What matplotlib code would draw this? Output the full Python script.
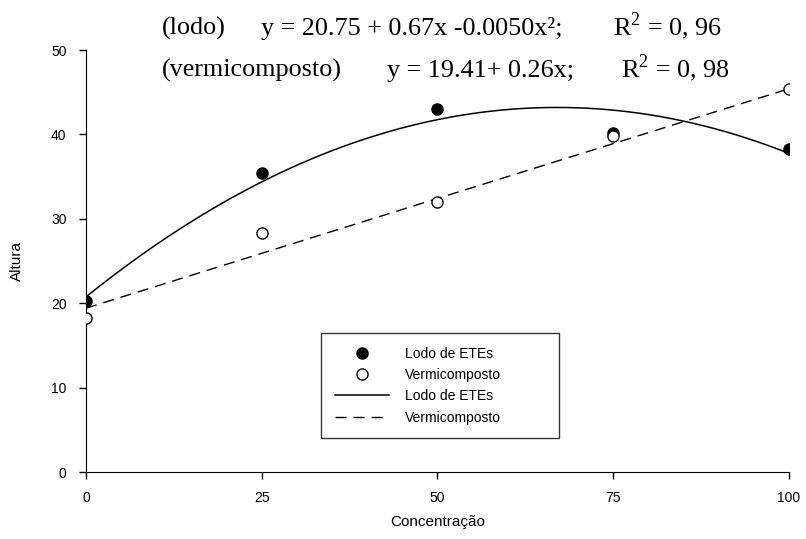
import numpy as np
import matplotlib
matplotlib.use("Agg")
import matplotlib.pyplot as plt

# dados
conc = [0, 25, 50, 75, 100]
lodo = [20.3, 35.4, 43.0, 40.2, 38.3]
vermi = [18.2, 28.3, 32.0, 39.8, 45.4]

# coeficientes das regressoes (maior grau primeiro)
coef_lodo = [-0.0050, 0.67, 20.75]
coef_vermi = [0.26, 19.41]

xticks = [0, 25, 50, 75, 100]
yticks = [0, 10, 20, 30, 40, 50]

plt.rcParams["font.family"] = ["Liberation Sans", "DejaVu Sans"]
plt.rcParams["mathtext.fontset"] = "custom"
plt.rcParams["mathtext.rm"] = "Liberation Serif"

fig = plt.figure(figsize=(8.06, 5.39), dpi=100)
ax = fig.add_axes([0.1067, 0.1243, 0.8722, 0.7829])

xs = np.linspace(0, 100, 200)
ax.plot(conc, lodo, "o", color="black", ms=8, label="Lodo de ETEs", zorder=3)
ax.plot(conc, vermi, "o", mfc="white", mec="black", mew=1.0, ms=8,
        label="Vermicomposto", zorder=3)
ax.plot(xs, np.polyval(coef_lodo, xs), "-", color="black", lw=1.1,
        label="Lodo de ETEs")
ax.plot(xs, np.polyval(coef_vermi, xs), "--", color="black", lw=1.0,
        dashes=(8, 5), label="Vermicomposto")

ax.set_xlim(0, 100)
ax.set_ylim(0, 50)
ax.set_xticks(xticks)
ax.set_yticks(yticks)
ax.spines["top"].set_visible(False)
ax.spines["right"].set_visible(False)
ax.tick_params(direction="out", length=5, width=1, labelsize=10)
ax.tick_params(axis="x", pad=9)
ax.tick_params(axis="y", pad=9)

ax.set_xlabel("Concentração", fontsize=11)
ax.xaxis.set_label_coords(0.5, -0.1185)
ax.xaxis.label.set_verticalalignment("center")
ax.set_ylabel("Altura", fontsize=11)
ax.yaxis.set_label_coords(-0.098, 0.5)
ax.yaxis.label.set_verticalalignment("center")

leg = ax.legend(loc="upper left", bbox_to_anchor=(0.3339, 0.0853, 0.339, 0.245),
                mode="expand", borderaxespad=0, numpoints=1,
                fontsize=10, frameon=True, fancybox=False, edgecolor="black",
                handlelength=3.95, handletextpad=1.1, borderpad=1.0,
                labelspacing=0.53)
leg.get_frame().set_linewidth(1.0)

serif = ["Liberation Serif", "DejaVu Serif"]
fs = 18.8
fig.text(162 / 806, 1 - 35 / 539, "(lodo)", family=serif, fontsize=fs, va="baseline")
fig.text(261 / 806, 1 - 35 / 539, "y = 20.75 + 0.67x -0.0050x²;", family=serif,
         fontsize=fs, va="baseline")
fig.text(613 / 806, 1 - 35 / 539, "R$^2$ = 0, 96", family=serif, fontsize=fs,
         va="baseline")
fig.text(162 / 806, 1 - 77 / 539, "(vermicomposto)", family=serif, fontsize=fs,
         va="baseline")
fig.text(387 / 806, 1 - 77 / 539, "y = 19.41+ 0.26x;", family=serif, fontsize=fs,
         va="baseline")
fig.text(621 / 806, 1 - 77 / 539, "R$^2$ = 0, 98", family=serif, fontsize=fs,
         va="baseline")

fig.savefig("out.png", dpi=100)
